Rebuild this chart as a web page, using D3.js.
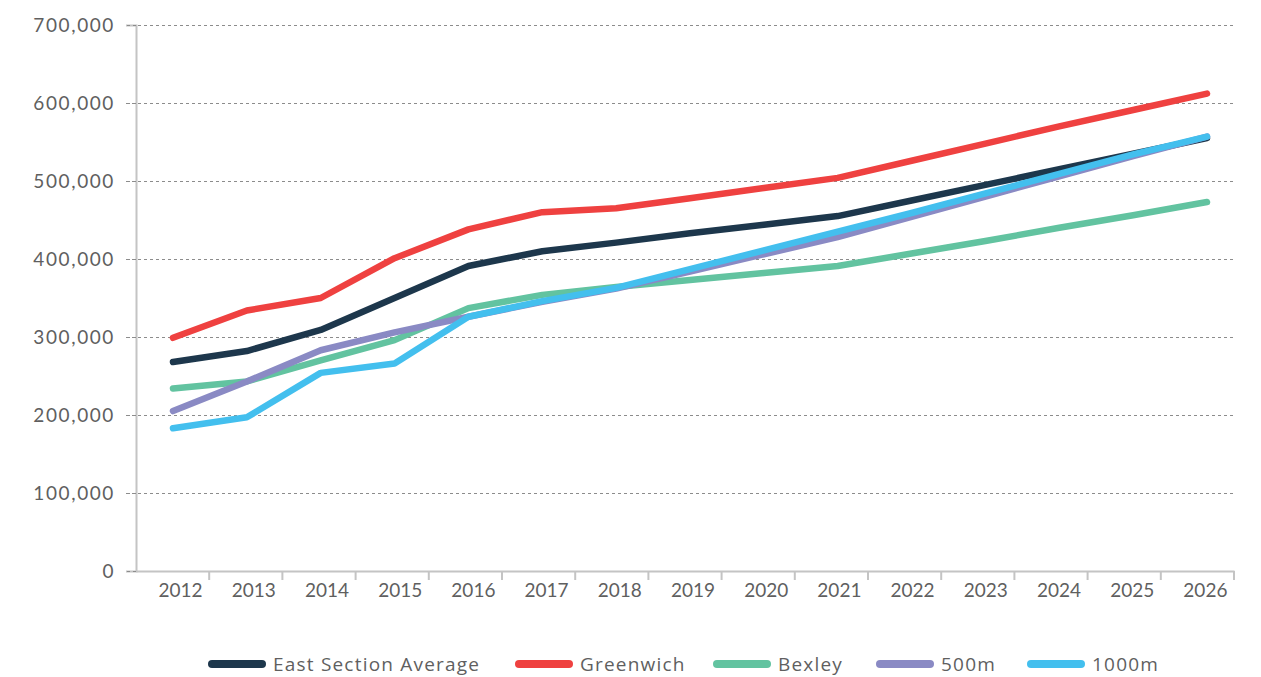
<!DOCTYPE html>
<html>
<head>
<meta charset="utf-8">
<script src="https://cdn.jsdelivr.net/npm/d3@7"></script>
<style>
  body { margin: 0; background: #fff; }
  text { font-family: Lato, "Open Sans", sans-serif; fill: #5f5f5f; }
</style>
</head>
<body>
<svg id="chart" width="1261" height="677"></svg>
<script>
var years = [2012, 2013, 2014, 2015, 2016, 2017, 2018, 2019, 2020, 2021, 2022, 2023, 2024, 2025, 2026];
var eastAvg   = [268000, 282000, 309000, 350000, 391000, 410000, 421000, 433000, 444000, 455000, 475000, 495000, 515000, 535000, 555000];
var greenwich = [299000, 334000, 350000, 401000, 438000, 460000, 465000, 478000, 491000, 504000, 526000, 548000, 570000, 591000, 612000];
var bexley    = [234000, 243000, 270000, 296000, 337000, 354000, 364000, 373000, 382000, 391000, 407000, 423000, 440000, 456000, 473000];
var m500      = [205000, 243000, 283000, 306000, 326000, 345000, 362000, 384000, 406000, 428000, 454000, 480000, 506000, 532000, 557000];
var m1000     = [183000, 197000, 254000, 266000, 326000, 346000, 363000, 387000, 411000, 435000, 459000, 484000, 509000, 534000, 557000];
var yTicks = [0, 100000, 200000, 300000, 400000, 500000, 600000, 700000];

var seriesNames = ["East Section Average", "Greenwich", "Bexley", "500m", "1000m"];
var seriesValues = [eastAvg, greenwich, bexley, m500, m1000];
var colors = ["#1d374c", "#ef4140", "#62c3a0", "#8a8ac4", "#43bfee"];

var svg = d3.select("#chart");
var plotLeft = 136, plotRight = 1234, plotTop = 25, plotBottom = 571;

var x = d3.scaleBand().domain(years).range([plotLeft, plotRight]);
var xp = d3.scalePoint().domain(years).range([173, 1207]);
var y = d3.scaleLinear().domain([0, 700000]).range([plotBottom, plotTop]);
var fmt = d3.format(",");

// gridlines
svg.append("g")
    .selectAll("line")
    .data(yTicks.slice(1))
    .enter().append("line")
    .attr("x1", plotLeft - 10)
    .attr("x2", plotRight)
    .attr("y1", function(d) { return y(d) + 0.5; })
    .attr("y2", function(d) { return y(d) + 0.5; })
    .attr("stroke", "#8c8c8c")
    .attr("stroke-dasharray", "3,3");

// y axis
var yAxis = svg.append("g")
    .attr("transform", "translate(" + plotLeft + ",0)")
    .call(d3.axisLeft(y).tickValues(yTicks).tickSize(10).tickFormat(fmt));
yAxis.select(".domain").attr("stroke", "#c4c4c4").attr("stroke-width", 2);
yAxis.selectAll(".tick line").attr("stroke", "#8c8c8c").attr("stroke-dasharray", "3,3");
yAxis.selectAll(".tick text")
    .attr("x", -21)
    .attr("font-size", 19)
    .attr("letter-spacing", 1.6)
    .style("font-family", "Lato, sans-serif")
    .attr("fill", "#636363");

// x axis
var xAxis = svg.append("g")
    .attr("transform", "translate(0," + plotBottom + ")")
    .call(d3.axisBottom(x).tickSize(0).tickSizeOuter(0));
xAxis.select(".domain").attr("stroke", "#c4c4c4").attr("stroke-width", 2);
xAxis.selectAll(".tick text")
    .attr("dx", 8)
    .attr("y", 13)
    .attr("font-size", 19)
    .style("font-family", "Lato, sans-serif")
    .attr("fill", "#636363");

svg.append("g")
    .selectAll("line")
    .data(years.slice(1).concat(["end"]))
    .enter().append("line")
    .attr("x1", function(d) { return d === "end" ? plotRight : x(d); })
    .attr("x2", function(d) { return d === "end" ? plotRight : x(d); })
    .attr("y1", plotBottom)
    .attr("y2", plotBottom + 9)
    .attr("stroke", "#c4c4c4")
    .attr("stroke-width", 2);

// lines
var line = d3.line()
    .x(function(d, i) { return xp(years[i]); })
    .y(function(d) { return y(d); });

svg.append("g")
    .selectAll("path")
    .data(seriesValues)
    .enter().append("path")
    .attr("d", line)
    .attr("fill", "none")
    .attr("stroke", function(d, i) { return colors[i]; })
    .attr("stroke-width", 6.5)
    .attr("stroke-linecap", "round")
    .attr("stroke-linejoin", "round");

// legend
var legendX = [212, 519, 717, 880, 1031];
var legend = svg.append("g")
    .selectAll("g")
    .data(seriesNames)
    .enter().append("g")
    .attr("transform", function(d, i) { return "translate(" + legendX[i] + ",664)"; });

legend.append("line")
    .attr("x1", 0)
    .attr("x2", 50)
    .attr("stroke", function(d, i) { return colors[i]; })
    .attr("stroke-width", 8)
    .attr("stroke-linecap", "round");

legend.append("text")
    .attr("x", 61)
    .attr("dy", "0.35em")
    .attr("font-size", 19)
    .attr("letter-spacing", 1.2)
    .style("font-family", "'Open Sans', sans-serif")
    .text(function(d) { return d; });
</script>
</body>
</html>
